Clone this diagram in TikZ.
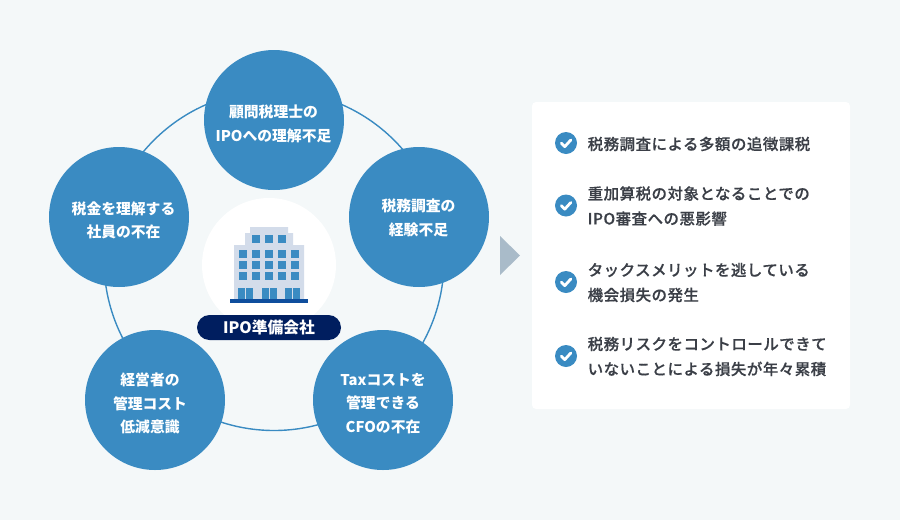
\documentclass[tikz,border=0pt]{standalone}
\usepackage{fontspec}
\usetikzlibrary{calc}
\setmainfont{Noto Sans CJK JP}
\newfontfamily\lst[LetterSpace=3,FakeBold=0.3]{Noto Sans CJK JP Medium}
\definecolor{bgc}{HTML}{F4F8F9}
\definecolor{blu}{HTML}{3A8BC2}
\definecolor{nav}{HTML}{001E5F}
\definecolor{arw}{HTML}{A9BBC9}
\definecolor{bld}{HTML}{D3DCEA}
\definecolor{bas}{HTML}{0F4E9D}
\definecolor{txt}{HTML}{3B3F47}
\tikzset{
 big/.style={circle,fill=blu,minimum size=140pt,inner sep=0pt},
 bigtext/.style={text=white,align=center,inner sep=0pt,font=\bfseries\fontsize{14.8}{23.6}\selectfont},
 win/.style={fill=blu},
 chk/.style={circle,fill=blu,minimum size=22pt,inner sep=0pt},
 item/.style={anchor=west,text=txt,align=left,font=\lst\fontsize{15.5}{25}\selectfont,inner sep=0pt},
 tick/.style={draw=white,line width=2.8pt,line cap=round,line join=round}
}
\newcommand{\chkmark}[1]{\draw[tick] ($(#1.center)+(-4.6,0.2)$) -- ($(#1.center)+(-1.2,3.6)$) -- ($(#1.center)+(4.8,-3)$);}
\begin{document}
\begin{tikzpicture}[x=1pt,y=-1pt]
\useasboundingbox (0,0) rectangle (900,520);
\fill[bgc] (0,0) rectangle (900,520);
\node[circle,draw=blu,line width=1.4pt,minimum size=340pt,inner sep=0pt] (ring) at (274,260.5) {};
\node[big] (a) at (274,120) {};
\node[big] (b) at (419,217) {};
\node[big] (c) at (383,400) {};
\node[big] (d) at (155,400) {};
\node[big] (e) at (119,217) {};
\node[bigtext] (ta) at (273.5,124) {顧問税理士の\\IPOへの理解不足};
\node[bigtext] (tb) at (418.5,218) {税務調査の\\経験不足};
\node[bigtext] (tc) at (383,403.5) {Taxコストを\\管理できる\\CFOの不在};
\node[bigtext] (td) at (150,403.5) {経営者の\\管理コスト\\低減意識};
\node[bigtext] (te) at (123.5,220.5) {税金を理解する\\社員の不在};
\node[circle,fill=white,minimum size=134pt,inner sep=0pt] (w) at (269,265) {};
% building
\fill[bld] (250,227) rectangle (288,233) (245,233) rectangle (293,245) (234,245) rectangle (304,299);
\foreach \x in {252,265,278} \fill[win] (\x,235) rectangle +(8.3,7.5);
\foreach \y in {250,261,272} \foreach \x in {239,252,265,278,291} \fill[win] (\x,\y) rectangle +(8.2,7.5);
\foreach \x in {238,262,285} {\fill[win] (\x,288) rectangle +(7,11); \fill[win] (\x+8,288) rectangle +(7,11);}
\fill[bas] (230,299) rectangle (308,303);
\node[rounded corners=12.5pt,fill=nav,minimum width=144pt,minimum height=25pt,inner sep=0pt,text=white,font=\bfseries\fontsize{15.8}{18}\selectfont] (p) at (269,327.5) {IPO準備会社};
\fill[arw] (500,236) -- (520,255.5) -- (500,275) -- cycle;
\node[fill=white,rounded corners=4pt,minimum width=318pt,minimum height=307pt,inner sep=0pt] (panel) at (691,255.5) {};
\node[chk] (c1) at (566,143) {}; \chkmark{c1}
\node[chk] (c2) at (566,205.5) {}; \chkmark{c2}
\node[chk] (c3) at (566,282) {}; \chkmark{c3}
\node[chk] (c4) at (566,356) {}; \chkmark{c4}
\node[item] (t1) at (587.5,144) {税務調査による多額の追徴課税};
\node[item] (t2) at (587.5,206) {重加算税の対象となることでの\\IPO審査への悪影響};
\node[item] (t3) at (587.5,282.5) {タックスメリットを逃している\\機会損失の発生};
\node[item] (t4) at (587.5,356.5) {税務リスクをコントロールできて\\いないことによる損失が年々累積};
\end{tikzpicture}
\end{document}
